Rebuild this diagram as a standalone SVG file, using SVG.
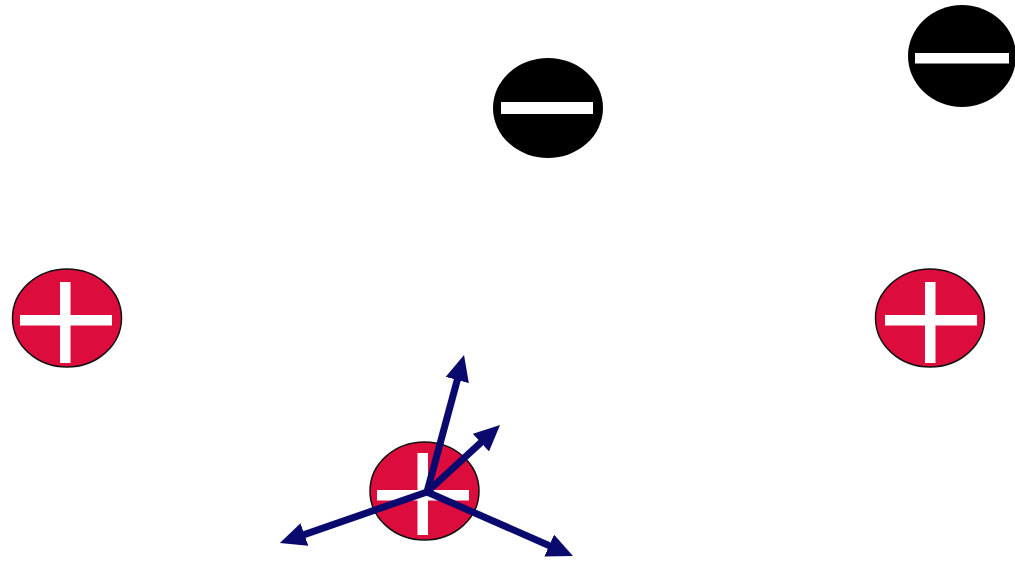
<svg xmlns="http://www.w3.org/2000/svg" width="1015" height="561" viewBox="0 0 1015 561">
<style>
.pos{fill:#dc0c3c;stroke:#111;stroke-width:1.5}
.neg{fill:#000}
.bar{fill:#fff}
.arr{stroke:#0a0a6e;stroke-width:7;fill:none;marker-end:url(#ah)}
</style>
<defs>
<marker id="ah" viewBox="0 0 26 24" refX="14" refY="12" markerWidth="26" markerHeight="24" markerUnits="userSpaceOnUse" orient="auto">
<path d="M0,0 L26,12 L0,24 Z" fill="#0a0a6e"/>
</marker>
</defs>
<rect width="1015" height="561" fill="#fff"/>
<g id="neg1">
<ellipse class="neg" cx="548" cy="108" rx="55" ry="50"/>
<rect class="bar" x="501" y="102" width="92" height="12"/>
</g>
<g id="neg2">
<ellipse class="neg" cx="962" cy="56" rx="54" ry="51"/>
<rect class="bar" x="915" y="53" width="94" height="10.5"/>
</g>
<g id="pos1">
<ellipse class="pos" cx="67" cy="318" rx="54.5" ry="49"/>
<rect class="bar" x="60" y="282" width="10.5" height="81"/>
<rect class="bar" x="20" y="315" width="92" height="10.5"/>
</g>
<g id="pos2">
<ellipse class="pos" cx="930" cy="318" rx="54.5" ry="49"/>
<rect class="bar" x="925" y="282" width="10.5" height="81"/>
<rect class="bar" x="885" y="315" width="92" height="10.5"/>
</g>
<g id="pos3">
<ellipse class="pos" cx="424.5" cy="491" rx="54.5" ry="49"/>
<rect class="bar" x="417.5" y="453" width="10.5" height="82"/>
<rect class="bar" x="377" y="490" width="92" height="10.5"/>
</g>
<g id="connectors">
<line class="arr" x1="427" y1="492" x2="460.9" y2="366.5"/>
<line class="arr" x1="427" y1="492" x2="491.2" y2="433.1"/>
<line class="arr" x1="427" y1="492" x2="291.2" y2="539.1"/>
<line class="arr" x1="427" y1="492" x2="562.0" y2="551.2"/>
</g>
</svg>
